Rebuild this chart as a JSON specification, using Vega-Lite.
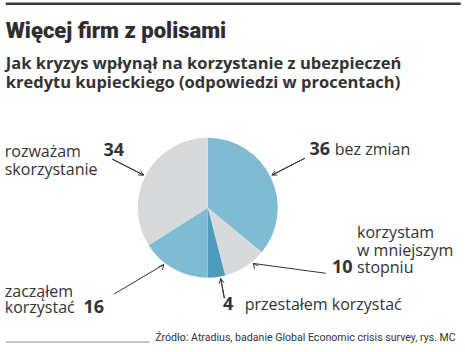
{
  "$schema": "https://vega.github.io/schema/vega-lite/v6.json",
  "background": "white",
  "padding": {"left": 3.75, "top": 1.75, "right": 0, "bottom": 0},
  "bounds": "flush",
  "spacing": 69,
  "config": {"view": {"stroke": null}, "title": {"offset": 0}},
  "vconcat": [
    {
      "width": 455,
      "height": 1,
      "view": {"stroke": "#383838", "strokeWidth": 2.5, "strokeDash": [455, 457]},
      "title": {
        "text": "Więcej firm z polisami",
        "subtitle": ["Jak kryzys wpłynął na korzystanie z ubezpieczeń", "kredytu kupieckiego (odpowiedzi w procentach)"],
        "orient": "bottom",
        "anchor": "start",
        "frame": "group",
        "offset": 32.9,
        "baseline": "alphabetic",
        "font": "Roboto",
        "fontSize": 22,
        "fontWeight": 900,
        "color": "#2e2e2e",
        "subtitleFont": "Open Sans",
        "subtitleFontSize": 16.5,
        "subtitleFontWeight": "bold",
        "subtitleColor": "#333333",
        "subtitleLineHeight": 19,
        "subtitlePadding": 9.7
      },
      "data": {"values": []},
      "mark": "point"
    },
    {
      "width": 404,
      "height": 268,
      "view": {"stroke": "#666666", "strokeWidth": 0.8, "strokeDash": [0, 932.7, 143.3, 268]},
      "title": {
        "text": "Źródło: Atradius, badanie Global Economic crisis survey, rys. MC",
        "orient": "bottom",
        "anchor": "end",
        "frame": "group",
        "offset": -1,
        "dx": 46,
        "baseline": "alphabetic",
        "font": "Roboto",
        "fontSize": 10.6,
        "fontWeight": "normal",
        "color": "#333333"
      },
      "data": {
        "values": [
          {"odp": "bez zmian", "proc": 36, "nr": 1},
          {"odp": "korzystam\nw mniejszym\nstopniu", "proc": 10, "nr": 2},
          {"odp": "przestałem korzystać", "proc": 4, "nr": 3},
          {"odp": "zacząłem\nkorzystać", "proc": 16, "nr": 4},
          {"odp": "rozważam\nskorzystanie", "proc": 34, "nr": 5}
        ]
      },
      "transform": [
        {"stack": "proc", "groupby": [], "sort": [{"field": "nr", "order": "ascending"}], "as": ["p0", "p1"]}
      ],
      "layer": [
        {
          "mark": {"type": "arc", "outerRadius": 70},
          "encoding": {
            "theta": {"field": "p0", "type": "quantitative", "stack": null, "scale": {"domain": [0, 100]}},
            "theta2": {"field": "p1"},
            "color": {
              "field": "odp",
              "type": "nominal",
              "scale": {
                "domain": ["bez zmian", "korzystam\nw mniejszym\nstopniu", "przestałem korzystać", "zacząłem\nkorzystać", "rozważam\nskorzystanie"],
                "range": ["#7fbbd2", "#d8d9db", "#4d9aba", "#7fbbd2", "#d8d9db"]
              },
              "legend": null
            }
          }
        },
        {
          "transform": [{"filter": "datum.nr === 1"}],
          "mark": {"type": "arc", "innerRadius": 72, "outerRadius": 109, "padAngle": 3.14159, "thetaOffset": -0.031416, "theta2Offset": -0.031416, "filled": false, "stroke": "#333333", "strokeWidth": 1},
          "encoding": {
            "theta": {"field": "p0", "type": "quantitative", "stack": null, "scale": {"domain": [0, 100]}},
            "theta2": {"field": "p1"}
          }
        },
        {
          "transform": [{"filter": "datum.nr === 5"}],
          "mark": {"type": "arc", "innerRadius": 72, "outerRadius": 107, "padAngle": 3.14159, "thetaOffset": -0.031416, "theta2Offset": -0.031416, "filled": false, "stroke": "#333333", "strokeWidth": 1},
          "encoding": {
            "theta": {"field": "p0", "type": "quantitative", "stack": null, "scale": {"domain": [0, 100]}},
            "theta2": {"field": "p1"}
          }
        },
        {
          "transform": [{"filter": "datum.nr === 3"}],
          "mark": {"type": "arc", "innerRadius": 72, "outerRadius": 92, "padAngle": 3.14159, "thetaOffset": -0.055851, "theta2Offset": -0.055851, "filled": false, "stroke": "#333333", "strokeWidth": 1},
          "encoding": {
            "theta": {"field": "p0", "type": "quantitative", "stack": null, "scale": {"domain": [0, 100]}},
            "theta2": {"field": "p1"}
          }
        },
        {
          "transform": [{"filter": "datum.nr === 2"}],
          "mark": {"type": "arc", "innerRadius": 72, "outerRadius": 135, "padAngle": 1.287002, "thetaOffset": -0.93209, "theta2Offset": 0.69124, "filled": false, "stroke": "#333333", "strokeWidth": 1, "strokeDash": [0, 175.16, 74, 2000]},
          "encoding": {
            "theta": {"field": "p0", "type": "quantitative", "stack": null, "scale": {"domain": [0, 100]}},
            "theta2": {"field": "p1"}
          }
        },
        {
          "transform": [{"filter": "datum.nr === 4"}],
          "mark": {"type": "arc", "innerRadius": 72, "outerRadius": 127.4, "padAngle": 1.287002, "thetaOffset": -0.26733, "theta2Offset": 0.58149, "filled": false, "stroke": "#333333", "strokeWidth": 1, "strokeDash": [0, 42.47, 58, 2000]},
          "encoding": {
            "theta": {"field": "p0", "type": "quantitative", "stack": null, "scale": {"domain": [0, 100]}},
            "theta2": {"field": "p1"}
          }
        },
        {
          "transform": [{"filter": "datum.nr === 1"}],
          "mark": {"type": "arc", "innerRadius": 72, "outerRadius": 76.94, "padAngle": 1.57898, "thetaOffset": -0.26791, "theta2Offset": 0.20508, "filled": false, "stroke": "#333333", "strokeWidth": 1, "strokeDash": [0, 4.995, 12, 1000]},
          "encoding": {
            "theta": {"field": "p0", "type": "quantitative", "stack": null, "scale": {"domain": [0, 100]}},
            "theta2": {"field": "p1"}
          }
        },
        {
          "transform": [{"filter": "datum.nr === 2"}],
          "mark": {"type": "arc", "innerRadius": 72, "outerRadius": 76.94, "padAngle": 1.57898, "thetaOffset": -1.17373, "theta2Offset": 0.93288, "filled": false, "stroke": "#333333", "strokeWidth": 1, "strokeDash": [0, 4.995, 12, 1000]},
          "encoding": {
            "theta": {"field": "p0", "type": "quantitative", "stack": null, "scale": {"domain": [0, 100]}},
            "theta2": {"field": "p1"}
          }
        },
        {
          "transform": [{"filter": "datum.nr === 3"}],
          "mark": {"type": "arc", "innerRadius": 72, "outerRadius": 76.94, "padAngle": 1.57898, "thetaOffset": -1.29765, "theta2Offset": 1.18595, "filled": false, "stroke": "#333333", "strokeWidth": 1, "strokeDash": [0, 4.995, 12, 1000]},
          "encoding": {
            "theta": {"field": "p0", "type": "quantitative", "stack": null, "scale": {"domain": [0, 100]}},
            "theta2": {"field": "p1"}
          }
        },
        {
          "transform": [{"filter": "datum.nr === 4"}],
          "mark": {"type": "arc", "innerRadius": 72, "outerRadius": 76.94, "padAngle": 1.57898, "thetaOffset": -0.70773, "theta2Offset": 1.02189, "filled": false, "stroke": "#333333", "strokeWidth": 1, "strokeDash": [0, 4.995, 12, 1000]},
          "encoding": {
            "theta": {"field": "p0", "type": "quantitative", "stack": null, "scale": {"domain": [0, 100]}},
            "theta2": {"field": "p1"}
          }
        },
        {
          "transform": [{"filter": "datum.nr === 5"}],
          "mark": {"type": "arc", "innerRadius": 72, "outerRadius": 76.94, "padAngle": 1.57898, "thetaOffset": -0.33074, "theta2Offset": 0.26791, "filled": false, "stroke": "#333333", "strokeWidth": 1, "strokeDash": [0, 4.995, 12, 1000]},
          "encoding": {
            "theta": {"field": "p0", "type": "quantitative", "stack": null, "scale": {"domain": [0, 100]}},
            "theta2": {"field": "p1"}
          }
        },
        {
          "transform": [{"filter": "datum.nr === 1"}],
          "mark": {"type": "text", "radius": 100, "align": "left", "baseline": "alphabetic", "dx": 101.8, "dy": 47.3, "font": "Open Sans", "fontSize": 18, "fontWeight": "bold", "color": "#333333"},
          "encoding": {
            "theta": {"field": "p0", "type": "quantitative", "stack": null, "scale": {"domain": [0, 100]}},
            "text": {"field": "proc", "type": "quantitative"}
          }
        },
        {
          "transform": [{"filter": "datum.nr === 1"}],
          "mark": {"type": "text", "radius": 100, "align": "left", "baseline": "alphabetic", "dx": 127, "dy": 47.3, "font": "Open Sans", "fontSize": 16, "color": "#333333", "lineBreak": "\n", "lineHeight": 17.5},
          "encoding": {
            "theta": {"field": "p0", "type": "quantitative", "stack": null, "scale": {"domain": [0, 100]}},
            "text": {"field": "odp", "type": "nominal"}
          }
        },
        {
          "transform": [{"filter": "datum.nr === 2"}],
          "mark": {"type": "text", "radius": 100, "align": "left", "baseline": "alphabetic", "dx": 47.15, "dy": 1.96, "font": "Open Sans", "fontSize": 18, "fontWeight": "bold", "color": "#333333"},
          "encoding": {
            "theta": {"field": "p0", "type": "quantitative", "stack": null, "scale": {"domain": [0, 100]}},
            "text": {"field": "proc", "type": "quantitative"}
          }
        },
        {
          "transform": [{"filter": "datum.nr === 2"}],
          "mark": {"type": "text", "radius": 100, "align": "left", "baseline": "alphabetic", "dx": 72.25, "dy": -33.44, "font": "Open Sans", "fontSize": 16, "color": "#333333", "lineBreak": "\n", "lineHeight": 17.7},
          "encoding": {
            "theta": {"field": "p0", "type": "quantitative", "stack": null, "scale": {"domain": [0, 100]}},
            "text": {"field": "odp", "type": "nominal"}
          }
        },
        {
          "transform": [{"filter": "datum.nr === 3"}],
          "mark": {"type": "text", "radius": 100, "align": "left", "baseline": "alphabetic", "dx": -9.67, "dy": 5.44, "font": "Open Sans", "fontSize": 18, "fontWeight": "bold", "color": "#333333"},
          "encoding": {
            "theta": {"field": "p0", "type": "quantitative", "stack": null, "scale": {"domain": [0, 100]}},
            "text": {"field": "proc", "type": "quantitative"}
          }
        },
        {
          "transform": [{"filter": "datum.nr === 3"}],
          "mark": {"type": "text", "radius": 100, "align": "left", "baseline": "alphabetic", "dx": 12.13, "dy": 5.44, "font": "Open Sans", "fontSize": 16, "color": "#333333", "lineBreak": "\n", "lineHeight": 17.5},
          "encoding": {
            "theta": {"field": "p0", "type": "quantitative", "stack": null, "scale": {"domain": [0, 100]}},
            "text": {"field": "odp", "type": "nominal"}
          }
        },
        {
          "transform": [{"filter": "datum.nr === 4"}],
          "mark": {"type": "text", "radius": 100, "align": "left", "baseline": "alphabetic", "dx": -124.2, "dy": 5.7, "font": "Open Sans", "fontSize": 18, "fontWeight": "bold", "color": "#333333"},
          "encoding": {
            "theta": {"field": "p0", "type": "quantitative", "stack": null, "scale": {"domain": [0, 100]}},
            "text": {"field": "proc", "type": "quantitative"}
          }
        },
        {
          "transform": [{"filter": "datum.nr === 4"}],
          "mark": {"type": "text", "radius": 100, "align": "left", "baseline": "alphabetic", "dx": -203, "dy": -11, "font": "Open Sans", "fontSize": 16, "color": "#333333", "lineBreak": "\n", "lineHeight": 16.7},
          "encoding": {
            "theta": {"field": "p0", "type": "quantitative", "stack": null, "scale": {"domain": [0, 100]}},
            "text": {"field": "odp", "type": "nominal"}
          }
        },
        {
          "transform": [{"filter": "datum.nr === 5"}],
          "mark": {"type": "text", "radius": 100, "align": "left", "baseline": "alphabetic", "dx": -19.77, "dy": -105.58, "font": "Open Sans", "fontSize": 18, "fontWeight": "bold", "color": "#333333"},
          "encoding": {
            "theta": {"field": "p0", "type": "quantitative", "stack": null, "scale": {"domain": [0, 100]}},
            "text": {"field": "proc", "type": "quantitative"}
          }
        },
        {
          "transform": [{"filter": "datum.nr === 5"}],
          "mark": {"type": "text", "radius": 100, "align": "left", "baseline": "alphabetic", "dx": -118.57, "dy": -103.88, "font": "Open Sans", "fontSize": 16, "color": "#333333", "lineBreak": "\n", "lineHeight": 17.3},
          "encoding": {
            "theta": {"field": "p0", "type": "quantitative", "stack": null, "scale": {"domain": [0, 100]}},
            "text": {"field": "odp", "type": "nominal"}
          }
        }
      ]
    }
  ]
}
